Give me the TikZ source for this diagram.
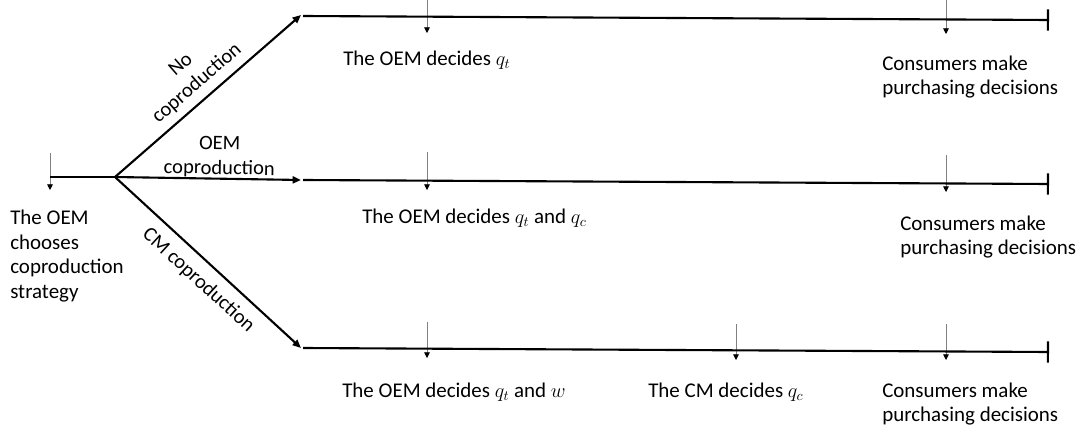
\documentclass[tikz,border=0pt]{standalone}
\usepackage{fontspec}
\setmainfont{Carlito}
\usetikzlibrary{arrows.meta}
\tikzset{
  branch/.style={line width=1.5pt,-{Triangle[length=6pt,width=5pt]}},
  stage/.style={line width=1.5pt,-{Bar[width=15pt]}},
  tick/.style={gray,line width=0.5pt,-{Triangle[length=4pt,width=4pt,color=black]}},
  txt/.style={anchor=west,inner sep=0pt,align=left,font=\fontsize{14.9pt}{17.4pt}\selectfont},
  lbl/.style={sloped,inner sep=2pt,align=center,font=\fontsize{14.6pt}{17.4pt}\selectfont}
}
\begin{document}
\begin{tikzpicture}[x=0.025cm,y=-0.025cm]
\useasboundingbox (0,0) rectangle (1080,433);
% points of the tree
\coordinate (s) at (50,177);
\coordinate (o) at (115,177);
\coordinate (na) at (301,15);  \coordinate (nb) at (303,16);  \coordinate (ne) at (1049,20);
\coordinate (ma) at (301,180); \coordinate (mb) at (303,180); \coordinate (me) at (1049,184);
\coordinate (ca) at (301,348); \coordinate (cb) at (303,348); \coordinate (ce) at (1049,352);
% decision ticks
\draw[tick](50,153)--(50,190);
\draw[tick](427,0)--(427,33);
\draw[tick](946,0)--(946,34);
\draw[tick](427,152)--(427,190);
\draw[tick](946,155)--(946,192);
\draw[tick](427,322)--(427,358);
\draw[tick](736,324)--(736,360);
\draw[tick](946,324)--(946,360);
% branches
\draw[line width=1.5pt](s)--(o);
\draw[branch](o)--node[lbl,above,midway,inner sep=5pt]{No\\coproduction}(na);
\draw[branch](o)--node[lbl,above,pos=0.56,inner sep=0pt]{OEM\\coproduction}(ma);
\draw[branch](o)--node[lbl,below,pos=0.52,inner sep=7pt]{CM coproduction}(ca);
\draw[stage](nb)--(ne);
\draw[stage](mb)--(me);
\draw[stage](cb)--(ce);
% texts
\node[txt](t0) at (10,256){The OEM\\chooses\\coproduction\\strategy};
\node[txt](n1) at (343,60){The OEM decides $q_t$};
\node[txt](n2) at (882,77){Consumers make\\purchasing decisions};
\node[txt](m1) at (362,218){The OEM decides $q_t$ and $q_c$};
\node[txt](m2) at (900,237){Consumers make\\purchasing decisions};
\node[txt](c1) at (342,392){The OEM decides $q_t$ and $w$};
\node[txt](c2) at (648,392){The CM decides $q_c$};
\node[txt](c3) at (882,404){Consumers make\\purchasing decisions};
\end{tikzpicture}
\end{document}
